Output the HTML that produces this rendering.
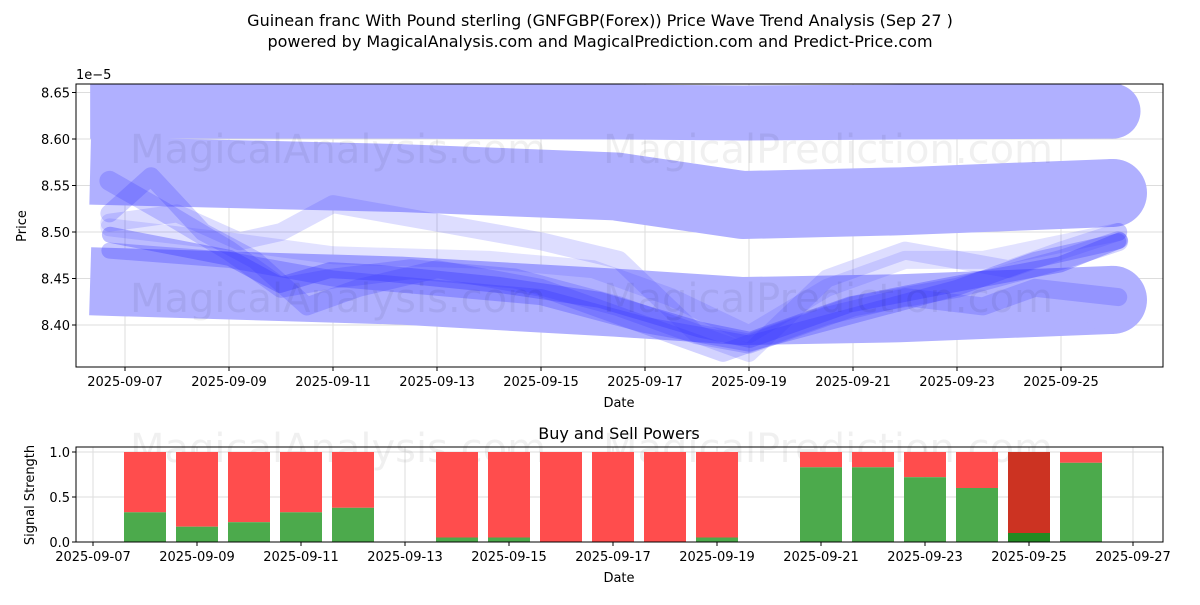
<!DOCTYPE html>
<html><head><meta charset="utf-8"><style>
body{margin:0;background:#fff;}
svg text{font-family:"DejaVu Sans","Liberation Sans",sans-serif;fill:#000;}
</style></head><body>
<svg id="chart" width="1200" height="600" xmlns="http://www.w3.org/2000/svg">
<text x="600" y="26" font-size="16" text-anchor="middle">Guinean franc With Pound sterling (GNFGBP(Forex)) Price Wave Trend Analysis (Sep 27 )</text>
<text x="600" y="47" font-size="16" text-anchor="middle">powered by MagicalAnalysis.com and MagicalPrediction.com and Predict-Price.com</text>
<g id="topPanel"></g>
<g id="botPanel"></g>
</svg>
<script>
const NS="http://www.w3.org/2000/svg";
// ---- price panel data ----
const yTicks=[8.40,8.45,8.50,8.55,8.60,8.65];
const xTickDays=[7,9,11,13,15,17,19,21,23,25];
const bandDays=[6.33,12.29,16.44,18.88,21.9,26.0];
const band1=[8.630,8.630,8.629,8.628,8.629,8.630];
const band2=[8.566,8.558,8.549,8.529,8.533,8.542];
const band3=[8.447,8.437,8.424,8.415,8.418,8.427];
const mainDays=[6.71,9.02,9.98,10.94,11.9,14.21,16.13,18.06,19.02,20.94,22.87,24.98,26.13];
const mainVals=[8.497,8.472,8.443,8.459,8.456,8.443,8.427,8.395,8.384,8.422,8.443,8.465,8.491];
const aDays=[6.7,7.8,9.0,10.0,11.0,12.5,14.5,16.5,18.0,19.0,21.0,23.0,25.0,26.1];
const aVals=[8.555,8.52,8.48,8.44,8.45,8.46,8.45,8.42,8.39,8.38,8.42,8.44,8.47,8.49];
const bDays=[6.7,8,9.2,10,11,13,15,16.5,18,19,20.5,22,23,24,25,26.1];
const bVals=[8.51,8.52,8.49,8.50,8.53,8.51,8.49,8.47,8.39,8.37,8.45,8.48,8.47,8.46,8.48,8.50];
const cDays=[6.7,7.5,8.5,9.5,10.5,11.5,13,15,17,18.5,19,20.5,22,23.5,24.5,26.1];
const cVals=[8.52,8.56,8.50,8.47,8.42,8.44,8.46,8.44,8.40,8.37,8.38,8.41,8.43,8.42,8.44,8.43];
const dDays=[6.7,9,11,13,15,17,19,21,23,24.5,26.1];
const dVals=[8.48,8.47,8.45,8.44,8.43,8.40,8.38,8.41,8.44,8.47,8.49];
const eDays=[6.7,9,11,14,16,17.5,19,20.5,22,23.5,26.1];
const eVals=[8.505,8.49,8.475,8.47,8.46,8.43,8.39,8.44,8.47,8.47,8.50];
// ---- signal panel data ----
const sigDays=[8,9,10,11,12,14,15,16,17,18,19,21,22,23,24,25,26];
const buyVals=[0.33,0.17,0.22,0.33,0.38,0.05,0.05,0,0,0,0.05,0.83,0.83,0.72,0.6,0.1,0.88];
const sigYTicks=[0.0,0.5,1.0];
const sigXTickDays=[7,9,11,13,15,17,19,21,23,25,27];

const T={l:76,r:1163,t:84,b:367};
const xT=d=>125+(d-7)*52;
const yT=v=>325-(v-8.40)*930;
const B={l:76,r:1163,t:447,b:542};
const xB=d=>93+(d-7)*52;
const yB=v=>542-v*90;
function el(tag,attrs,parent,txt){const e=document.createElementNS(NS,tag);for(const k in attrs)e.setAttribute(k,attrs[k]);if(txt!==undefined)e.textContent=txt;parent.appendChild(e);return e;}
const pad=n=>String(n).padStart(2,'0');
const topG=document.getElementById('topPanel'),botG=document.getElementById('botPanel');
const cp=el('clipPath',{id:'ct'},topG);
el('rect',{x:T.l,y:T.t,width:T.r-T.l,height:T.b-T.t},cp);
yTicks.forEach(v=>{const g=el('line',{x1:T.l,x2:T.r,y1:yT(v),y2:yT(v),stroke:'#ddd','stroke-width':1},topG);

const t=el('text',{x:T.l-6,y:yT(v)+5,'font-size':13,'text-anchor':'end'},topG,v.toFixed(2));

el('line',{x1:T.l-4,x2:T.l,y1:yT(v),y2:yT(v),stroke:'#000'},topG);});
xTickDays.forEach(d=>{const g=el('line',{x1:xT(d),x2:xT(d),y1:T.t,y2:T.b,stroke:'#ddd'},topG);

const t=el('text',{x:xT(d),y:T.b+19,'font-size':13,'text-anchor':'middle'},topG,'2025-09-'+pad(d));

el('line',{x1:xT(d),x2:xT(d),y1:T.b,y2:T.b+4,stroke:'#000'},topG);});
const plot=el('g',{'clip-path':'url(#ct)'},topG);
function wm(g,x,y,s){const t=el('text',{x:x,y:y,'font-size':40,style:'fill:rgba(0,0,0,0.06)'},g,s);}
[[band1,55],[band2,68],[band3,68]].forEach(([vals,w],i)=>{
const pts=bandDays.map((d,j)=>xT(d)+','+yT(vals[j])).join(' ');
const p=el('polyline',{points:pts,fill:'none',stroke:'#b0b0ff','stroke-width':w,'stroke-linejoin':'round'},plot);

const n=bandDays.length-1;
el('circle',{cx:xT(bandDays[n]),cy:yT(vals[n]),r:w/2,fill:'#b0b0ff'},plot);});
[[eDays,eVals,18,0.14],[bDays,bVals,18,0.17],[aDays,aVals,20,0.22],[cDays,cVals,18,0.22],[dDays,dVals,16,0.28],[mainDays,mainVals,16,0.33]].forEach(([ds,vs,w,o],i)=>{
const p=el('polyline',{points:ds.map((d,j)=>xT(d)+','+yT(vs[j])).join(' '),fill:'none',stroke:'#3333ff','stroke-opacity':o,'stroke-width':w,'stroke-linejoin':'round','stroke-linecap':'round'},plot);
});
wm(topG,130,163,'MagicalAnalysis.com');wm(topG,603,163,'MagicalPrediction.com');
wm(topG,130,312,'MagicalAnalysis.com');wm(topG,603,312,'MagicalPrediction.com');
el('rect',{x:T.l,y:T.t,width:T.r-T.l,height:T.b-T.t,fill:'none',stroke:'#000','stroke-width':1},topG);
el('text',{x:76,y:79,'font-size':13},topG,'1e\u22125');
const yl=el('text',{x:26,y:226,'font-size':13,'text-anchor':'middle',transform:'rotate(-90 26 226)'},topG,'Price');

const xl=el('text',{x:619,y:407,'font-size':13,'text-anchor':'middle'},topG,'Date');

const bt=el('text',{x:619,y:439,'font-size':16,'text-anchor':'middle'},botG,'Buy and Sell Powers');

sigYTicks.forEach(v=>{el('line',{x1:B.l,x2:B.r,y1:yB(v),y2:yB(v),stroke:'#ddd'},botG);
const t=el('text',{x:B.l-6,y:yB(v)+5,'font-size':13,'text-anchor':'end'},botG,v.toFixed(1));

el('line',{x1:B.l-4,x2:B.l,y1:yB(v),y2:yB(v),stroke:'#000'},botG);});
sigXTickDays.forEach(d=>{el('line',{x1:xB(d),x2:xB(d),y1:B.t,y2:B.b,stroke:'#ddd'},botG);
const t=el('text',{x:xB(d),y:B.b+19,'font-size':13,'text-anchor':'middle'},botG,'2025-09-'+pad(d));

el('line',{x1:xB(d),x2:xB(d),y1:B.b,y2:B.b+4,stroke:'#000'},botG);});
wm(botG,130,462,'MagicalAnalysis.com');wm(botG,603,462,'MagicalPrediction.com');
sigDays.forEach((d,i)=>{const dark=d===25;const x=xB(d)-21;
const s=el('rect',{x:x,y:yB(1),width:42,height:yB(buyVals[i])-yB(1),fill:dark?'#cc3322':'#ff4d4d'},botG);

const b=el('rect',{x:x,y:yB(buyVals[i]),width:42,height:yB(0)-yB(buyVals[i]),fill:dark?'#228b22':'#4caa4c'},botG);
});
el('rect',{x:B.l,y:B.t,width:B.r-B.l,height:B.b-B.t,fill:'none',stroke:'#000'},botG);
const sl=el('text',{x:34,y:495,'font-size':13,'text-anchor':'middle',transform:'rotate(-90 34 495)'},botG,'Signal Strength');

const sx=el('text',{x:619,y:582,'font-size':13,'text-anchor':'middle'},botG,'Date');

</script>
</body></html>
